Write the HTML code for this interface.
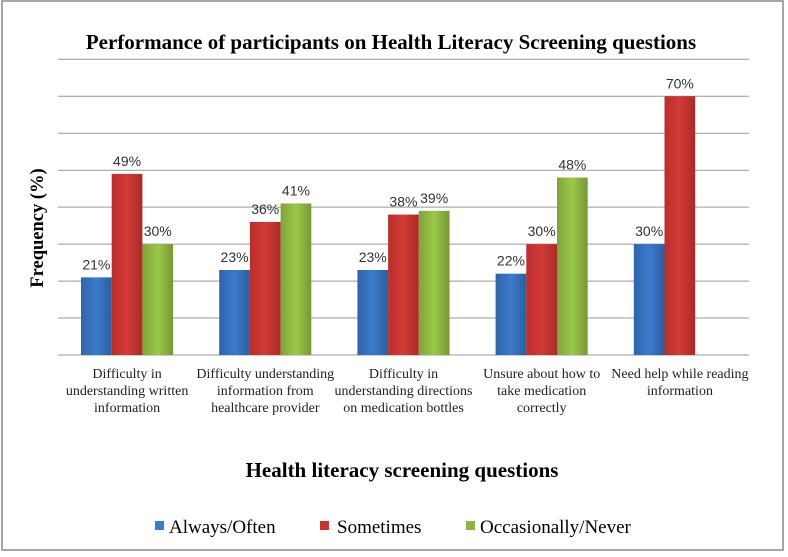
<!DOCTYPE html>
<html><head><meta charset="utf-8"><style>
body{margin:0;background:#fff}
svg text{font-family:"Liberation Serif",serif}
.lbl{font-family:"Liberation Sans",sans-serif;font-size:14px;fill:#333}
</style></head><body>
<svg id="chart" width="788" height="552" viewBox="0 0 788 552">
<defs>
<linearGradient id="gb" x1="0" x2="1"><stop offset="0" stop-color="#2f64a8"/><stop offset="0.5" stop-color="#3d7acc"/><stop offset="1" stop-color="#2c5e9e"/></linearGradient>
<linearGradient id="gr" x1="0" x2="1"><stop offset="0" stop-color="#b82e2c"/><stop offset="0.5" stop-color="#d23b38"/><stop offset="1" stop-color="#a92a28"/></linearGradient>
<linearGradient id="gg" x1="0" x2="1"><stop offset="0" stop-color="#7fa33b"/><stop offset="0.5" stop-color="#9bc84a"/><stop offset="1" stop-color="#769836"/></linearGradient>
</defs>
<rect x="2" y="1" width="781" height="549" fill="#fff" stroke="#888" stroke-width="1.5"/>
<text x="391" y="49" text-anchor="middle" font-weight="bold" font-size="21">Performance of participants on Health Literacy Screening questions</text>
<g id="grid"></g><g id="bars"></g><g id="labels"></g><g id="cats"></g>
<text transform="translate(43,228) rotate(-90)" text-anchor="middle" font-weight="bold" font-size="18.5">Frequency (%)</text>
<text x="402" y="477" text-anchor="middle" font-weight="bold" font-size="21">Health literacy screening questions</text>
<g font-size="19">
<rect x="155" y="521" width="9" height="9" fill="#3d7acc"/>
<text x="169" y="533">Always/Often</text>
<rect x="320" y="521" width="9" height="9" fill="#c83432"/>
<text x="337" y="533">Sometimes</text>
<rect x="466" y="521" width="9" height="9" fill="#8cb545"/>
<text x="480" y="533">Occasionally/Never</text>
</g>
</svg>
<script>
const categories=[["Difficulty in","understanding written","information"],["Difficulty understanding","information from","healthcare provider"],["Difficulty in","understanding directions","on medication bottles"],["Unsure about how to","take medication","correctly"],["Need help while reading","information"]];
const alwaysOften=[21,23,23,22,30];
const sometimes=[49,36,38,30,70];
const occasionallyNever=[30,41,39,48,null];
const yTicks=[0,10,20,30,40,50,60,70,80];
const NS="http://www.w3.org/2000/svg";
const x0=58,x1=749,y0=355,yTop=59.3,yMax=80;
const gw=(x1-x0)/categories.length,bw=30.7;
function yS(v){return y0-(v/yMax)*(y0-yTop);}
function mk(t,a,p){const e=document.createElementNS(NS,t);for(const k in a)e.setAttribute(k,a[k]);document.getElementById(p).appendChild(e);return e;}
yTicks.forEach(v=>{const l=mk('line',{x1:x0,x2:x1,y1:yS(v),y2:yS(v),stroke:'#999','stroke-width':1},'grid');

});
const series=[[alwaysOften,'url(#gb)','always'],[sometimes,'url(#gr)','sometimes'],[occasionallyNever,'url(#gg)','never']];
categories.forEach((c,i)=>{
 const gx=x0+i*gw+23;
 series.forEach((s,j)=>{const v=s[0][i];if(v==null)return;
  const x=gx+j*bw;
  const r=mk('rect',{x:x,y:yS(v),width:bw,height:y0-yS(v),fill:s[1]},'bars');
  
  
  const t=mk('text',{x:x+bw/2,y:yS(v)-8,'text-anchor':'middle',class:'lbl'},'labels');t.textContent=v+'%';
  
  
 });
 const cx=x0+i*gw+gw/2;
 c.forEach((ln,k)=>{const t=mk('text',{x:cx,y:378+k*17,'text-anchor':'middle','font-size':'14',fill:'#222'},'cats');t.textContent=ln;
  
  });
});
</script>
</body></html>
